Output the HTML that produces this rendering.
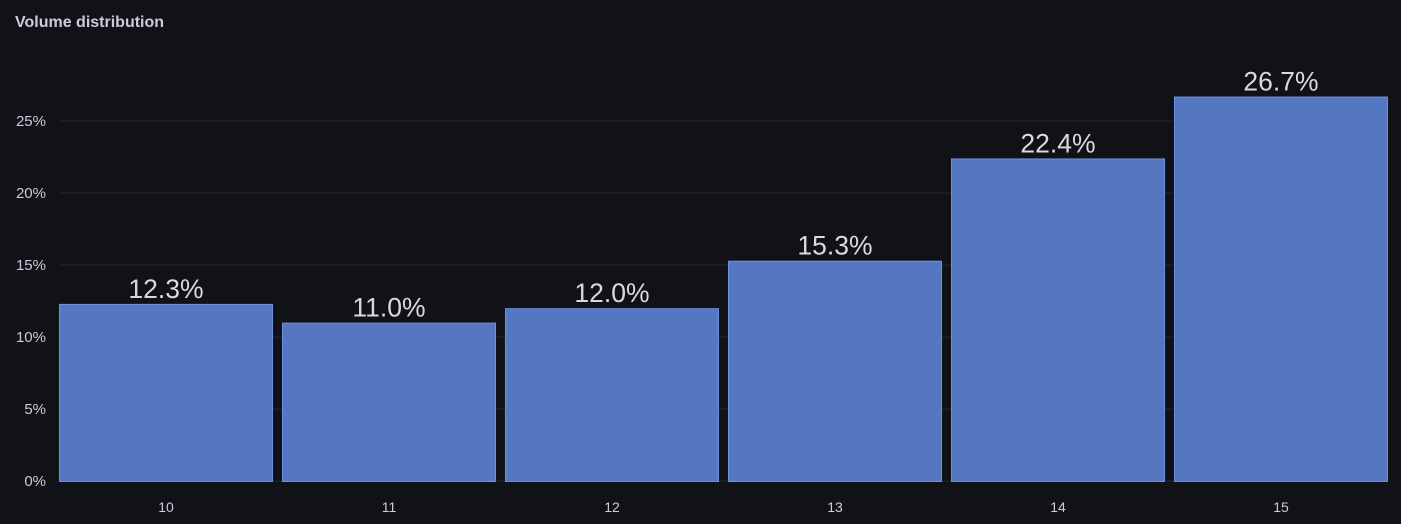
<!DOCTYPE html>
<html><head><meta charset="utf-8">
<style>
html,body{margin:0;padding:0;background:#111217;}
body{width:1401px;height:524px;overflow:hidden;font-family:"Liberation Sans",sans-serif;}
.title{position:absolute;left:15px;top:14px;color:#ccccdc;font-size:16px;font-weight:bold;}
svg{position:absolute;left:0;top:0;}
</style></head>
<body>
<div class="title">Volume distribution</div>
<svg id="chart" width="1401" height="524"></svg>
<script>
const categories = ["10","11","12","13","14","15"];
const values = [12.3, 11.0, 12.0, 15.3, 22.4, 26.7];
const yTicks = [0, 5, 10, 15, 20, 25];
const yTickLabels = ["0%","5%","10%","15%","20%","25%"];

const svg = document.getElementById('chart');
const NS = 'http://www.w3.org/2000/svg';
const plotLeft = 59, plotRight = 1388, y0 = 481, pxPerUnit = 14.4;
const step = (plotRight - plotLeft + 9) / categories.length, barW = step - 9;
function yScale(v){ return y0 - v * pxPerUnit; }
function xScale(i){ return plotLeft + i * step; }
function mk(tag, attrs){ const e = document.createElementNS(NS, tag); for (const k in attrs) e.setAttribute(k, attrs[k]); svg.appendChild(e); return e; }

yTicks.forEach((t, i) => {
  const y = yScale(t);
  const g = mk('line', {x1: plotLeft, x2: plotRight, y1: y, y2: y, stroke: '#24262c', 'stroke-width': 1});
  
  
  const tx = mk('text', {x: 46, y: y + 5, 'text-anchor': 'end', fill: '#ccccdc', 'font-size': 15, 'font-family': 'Liberation Sans, sans-serif'});
  tx.textContent = yTickLabels[i];
  
  
});

categories.forEach((c, i) => {
  const x = xScale(i), y = yScale(values[i]);
  const r = mk('rect', {x: x + 0.5, y: y + 0.5, width: barW - 1, height: y0 - y, fill: '#5577c2', stroke: '#6f90e0', 'stroke-width': 1});
  
  
  const v = mk('text', {x: x + barW / 2, y: y - 6, 'text-anchor': 'middle', fill: '#d8d9e2', 'font-size': 26.5, 'font-family': 'Liberation Sans, sans-serif'});
  v.textContent = values[i].toFixed(1) + '%';
  
  
  const xl = mk('text', {x: x + barW / 2, y: 512, 'text-anchor': 'middle', fill: '#ccccdc', 'font-size': 14, 'font-family': 'Liberation Sans, sans-serif'});
  xl.textContent = c;
  
  
});
</script>
</body></html>
